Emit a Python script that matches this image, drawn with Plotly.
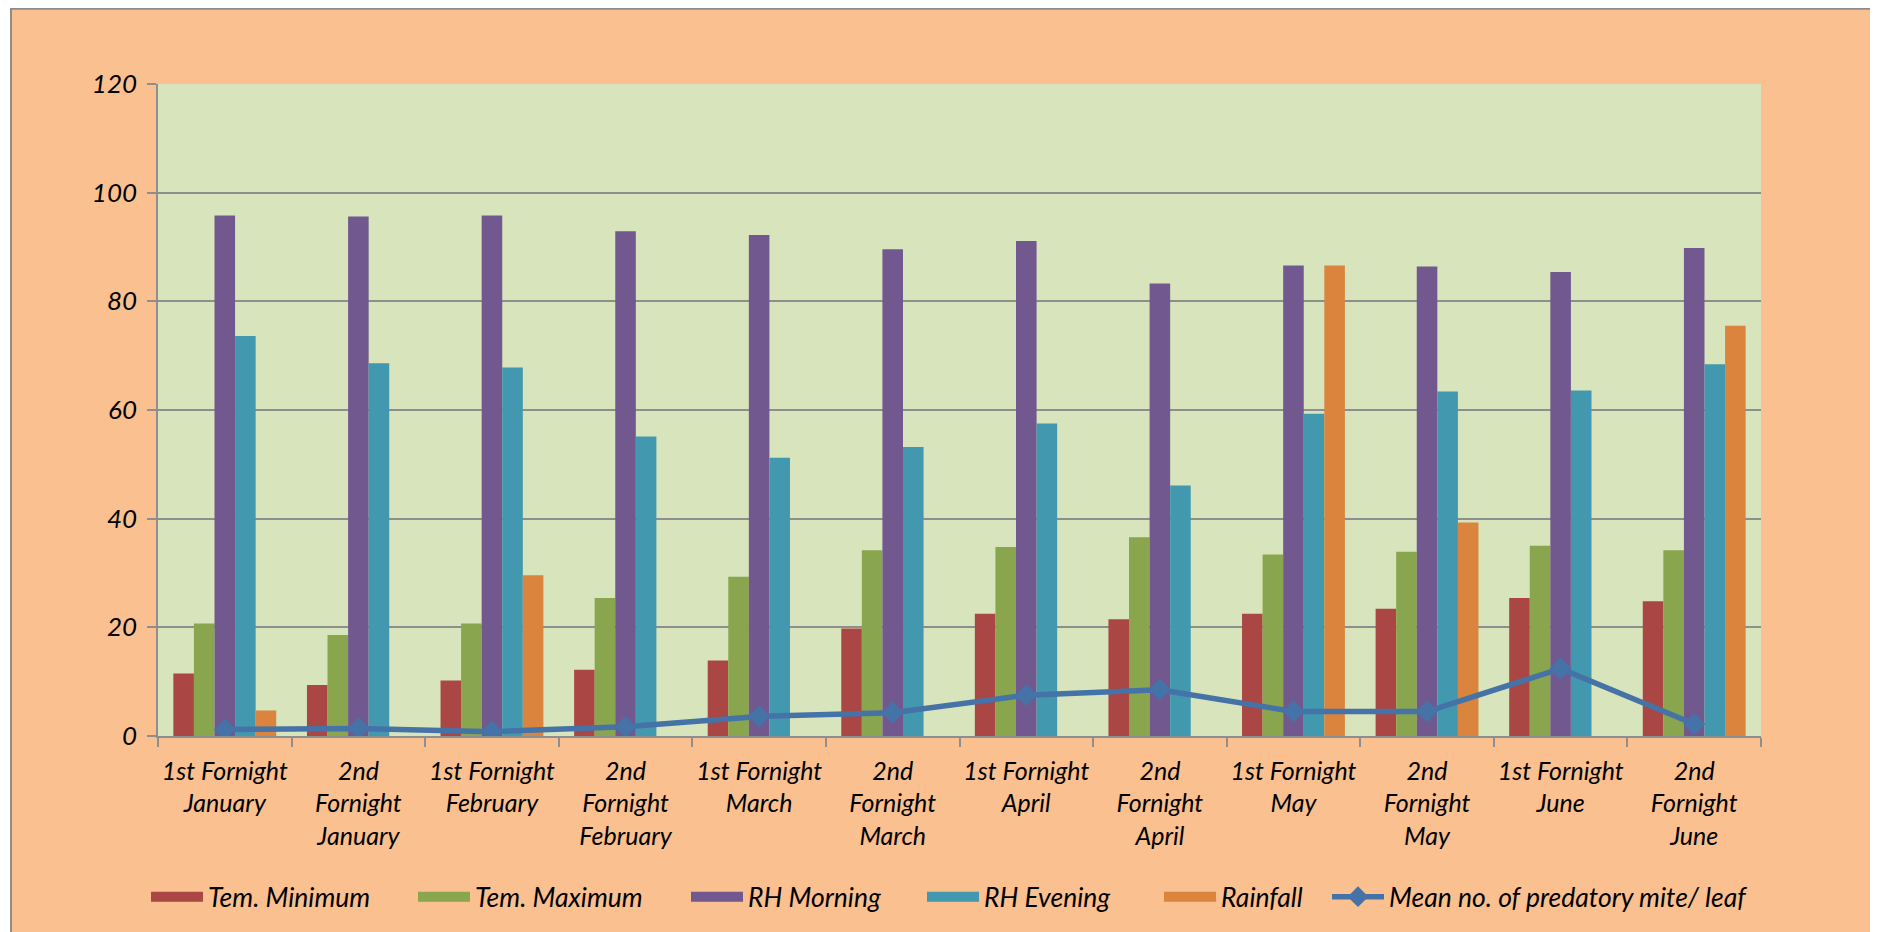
import plotly.graph_objects as go

categories = ["1st Fornight January", "2nd Fornight January", "1st Fornight February",
              "2nd Fornight February", "1st Fornight March", "2nd Fornight March",
              "1st Fornight April", "2nd Fornight April", "1st Fornight May",
              "2nd Fornight May", "1st Fornight June", "2nd Fornight June"]
tick_labels = ["1st Fornight<br>January", "2nd<br>Fornight<br>January", "1st Fornight<br>February",
               "2nd<br>Fornight<br>February", "1st Fornight<br>March", "2nd<br>Fornight<br>March",
               "1st Fornight<br>April", "2nd<br>Fornight<br>April", "1st Fornight<br>May",
               "2nd<br>Fornight<br>May", "1st Fornight<br>June", "2nd<br>Fornight<br>June"]

tem_min = [11.5, 9.4, 10.2, 12.2, 13.9, 19.8, 22.5, 21.5, 22.5, 23.4, 25.4, 24.8]
tem_max = [20.7, 18.6, 20.7, 25.4, 29.3, 34.2, 34.8, 36.6, 33.4, 33.9, 35.0, 34.2]
rh_morning = [95.8, 95.6, 95.8, 92.9, 92.2, 89.6, 91.1, 83.3, 86.6, 86.4, 85.4, 89.8]
rh_evening = [73.6, 68.6, 67.8, 55.1, 51.2, 53.2, 57.5, 46.1, 59.3, 63.4, 63.6, 68.4]
rainfall = [4.7, 0, 29.6, 0, 0, 0, 0, 0, 86.6, 39.3, 0, 75.5]
mite = [1.2, 1.4, 0.8, 1.7, 3.6, 4.3, 7.5, 8.5, 4.5, 4.5, 12.4, 2.2]

y_ticks = [0, 20, 40, 60, 80, 100, 120]

W, H = 1878, 932
ML, MR, MT, MB = 150, 125, 76, 204
FONT = "Lato"
GRID = "#8E8E8E"
pw = W - ML - MR
ph = H - MT - MB


def px2x(p):
    return (p - ML) / pw


def py2y(p):
    return (H - MB - p) / ph


fig = go.Figure()
bar_series = [
    ("Tem. Minimum", tem_min, "#AA4643", 200),
    ("Tem. Maximum", tem_max, "#89A54E", 206),
    ("RH Morning", rh_morning, "#71588F", 169),
    ("RH Evening", rh_evening, "#4198AF", 170),
    ("Rainfall", rainfall, "#DB843D", 101),
]
for name, vals, col, lw in bar_series:
    fig.add_trace(go.Bar(name=name, x=categories, y=vals, legendgroup=name, showlegend=False,
                         marker=dict(color=col, line=dict(width=0))))
    # legend-only entry (wide swatch like the original)
    fig.add_trace(go.Scatter(name=name, x=[None], y=[None], mode="lines", legendgroup=name,
                             line=dict(color=col, width=15), legendwidth=lw, hoverinfo="skip"))

fig.add_trace(go.Scatter(name="Mean no. of predatory mite/ leaf", x=categories, y=mite,
                         mode="lines+markers",
                         line=dict(color="#4572A7", width=5.5),
                         marker=dict(symbol="diamond", size=17, color="#4572A7")))

shapes = [
    dict(type="rect", xref="paper", yref="paper", x0=px2x(-5), x1=px2x(2), y0=py2y(H + 5), y1=py2y(-5),
         fillcolor="white", line=dict(width=0), layer="below"),
    dict(type="line", xref="paper", yref="paper", x0=px2x(3), x1=px2x(W + 5), y0=py2y(0.7), y1=py2y(0.7),
         line=dict(color="#8C8C8C", width=2), layer="below"),
    dict(type="line", xref="paper", yref="paper", x0=px2x(3), x1=px2x(3), y0=py2y(0), y1=py2y(H + 5),
         line=dict(color="#8C8C8C", width=2), layer="below"),
]

fig.update_layout(
    width=W, height=H,
    margin=dict(l=ML, r=MR, t=MT, b=MB, pad=0),
    paper_bgcolor="#FAC090",
    plot_bgcolor="#D8E4BC",
    barmode="group", bargap=0.23, bargroupgap=0,
    font=dict(family=FONT, size=25, color="black", style="italic"),
    shapes=shapes,
    showlegend=True,
    legend=dict(orientation="h", x=px2x(138), xanchor="left", y=py2y(889), yanchor="middle",
                font=dict(family=FONT, size=26.5, color="black", style="italic"),
                bgcolor="rgba(0,0,0,0)", itemwidth=52, traceorder="normal"),
    xaxis=dict(tickvals=categories, ticktext=tick_labels, tickson="boundaries",
               range=[-0.5, len(categories) - 0.5], autorange=False,
               ticks="outside", ticklen=9, tickcolor=GRID, tickwidth=1.5,
               showline=True, linecolor=GRID, linewidth=1.5, showgrid=False,
               tickfont=dict(family=FONT, size=25, color="black", style="italic"),
               ticklabelstandoff=12, tickangle=0),
    yaxis=dict(range=[0, 120], tickvals=y_ticks, ticks="outside", ticklen=9, tickcolor=GRID,
               tickwidth=1.5, showline=True, linecolor=GRID, linewidth=1.5,
               showgrid=True, gridcolor=GRID, gridwidth=1.5, zeroline=False,
               tickfont=dict(family=FONT, size=26, color="black", style="italic"),
               ticklabelstandoff=5),
)

fig.write_html("out.html")
